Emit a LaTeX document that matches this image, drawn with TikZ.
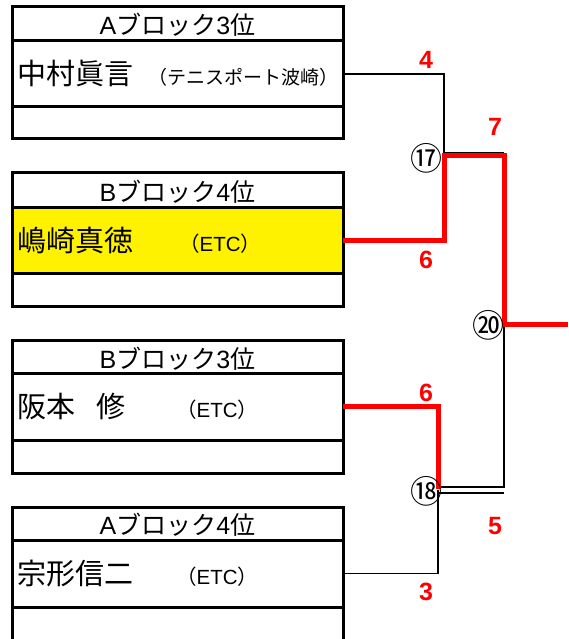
\documentclass[tikz,border=0pt]{standalone}
\usepackage{fontspec}
\setmainfont{Noto Sans CJK JP}
\newfontfamily\scorefont{Liberation Sans}
\newfontfamily\latinfont{Liberation Sans}
\tikzset{
  row/.style={draw, line width=3pt, minimum width=331pt, inner sep=0pt, outer sep=0pt},
  ttl/.style={anchor=base, inner sep=0pt, font=\fontsize{25}{25}\selectfont},
  pname/.style={anchor=base west, inner sep=0pt, font=\fontsize{29}{29}\selectfont},
  club/.style={anchor=base west, inner sep=0pt, font=\fontsize{19}{19}\selectfont},
  etc/.style={anchor=base west, inner sep=0pt, font=\fontsize{20.5}{20.5}\selectfont},
  score/.style={text=red, inner sep=0pt, font=\scorefont\bfseries\fontsize{25}{25}\selectfont},
  bline/.style={line width=1.3pt},
  rline/.style={red, line width=5pt, line join=miter},
  mnum/.style={inner sep=0pt, font=\fontsize{32}{32}\selectfont}
}
\begin{document}
\begin{tikzpicture}[x=1pt, y=-1pt]
\useasboundingbox (0,0) rectangle (568,639);
% box 1
\node[row, minimum height=34pt] (t1) at (177.5,24) {};
\node[row, minimum height=66pt] (n1) at (177.5,74) {};
\node[row, minimum height=32pt] (e1) at (177.5,123) {};
% box 2
\node[row, minimum height=34pt] (t2) at (177.5,190) {};
\node[row, minimum height=66pt, fill=yellow] (n2) at (177.5,240) {};
\node[row, minimum height=33pt] (e2) at (177.5,289.5) {};
% box 3
\node[row, minimum height=33pt] (t3) at (177.5,357) {};
\node[row, minimum height=67pt] (n3) at (177.5,406.5) {};
\node[row, minimum height=33pt] (e3) at (177.5,456.5) {};
% box 4
\node[row, minimum height=33pt] (t4) at (177.5,523.5) {};
\node[row, minimum height=67pt] (n4) at (177.5,573.5) {};
\node[row, minimum height=50pt] (e4) at (177.5,632) {};
% titles
\node[ttl] (tt1) at (177.5,35) {{\latinfont A}ブロック{\latinfont 3}位};
\node[ttl] (tt2) at (177.5,201) {{\latinfont B}ブロック{\latinfont 4}位};
\node[ttl] (tt3) at (177.5,368) {{\latinfont B}ブロック{\latinfont 3}位};
\node[ttl] (tt4) at (177.5,534.5) {{\latinfont A}ブロック{\latinfont 4}位};
% names
\node[pname] (p1) at (17,85) {中村眞言};
\node[club] (c1) at (148,85) {（テニスポート波崎）};
\node[pname] (p2) at (17,251) {嶋崎真徳};
\node[etc] (c2) at (179,251) {（{\latinfont ETC}）};
\node[pname] (p3) at (17,417) {阪本\hspace{0.75em}修};
\node[etc] (c3) at (176,417) {（{\latinfont ETC}）};
\node[pname] (p4) at (17,584) {宗形信二};
\node[etc] (c4) at (176,584) {（{\latinfont ETC}）};
% bracket coordinates
\coordinate (a17) at (444,153);
\coordinate (b17) at (504,153);
\coordinate (r17) at (444,156);
\coordinate (r20) at (504,156);
\coordinate (w20) at (504,324);
\coordinate (out) at (568,324);
\coordinate (r18) at (438,489);
\coordinate (a18) at (438,490);
\coordinate (u18) at (438,487);
\coordinate (v18) at (504,487);
\coordinate (l18) at (438,493);
\coordinate (m18) at (504,493);
% black lines
\draw[bline] (n1.east) -| (a17) -- (b17);
\draw[bline] (n4.east) -| (a18);
\draw[bline] (u18) -- (v18) -- (w20);
\draw[bline] (l18) -- (m18);
% red lines
\draw[rline] (n2.east) -| (r17) -- (r20) -- (w20) -- (out);
\draw[rline] (n3.east) -| (r18);
% match numbers
\node[mnum] (m17) at (426,158) {⑰};
\node[mnum] (m18n) at (426,491) {⑱};
\node[mnum] (m20) at (488,325) {⑳};
% scores
\node[score] (s1) at (426,60) {4};
\node[score] (s2) at (426,260) {6};
\node[score] (s3) at (495,127) {7};
\node[score] (s4) at (426,393) {6};
\node[score] (s5) at (426,592) {3};
\node[score] (s6) at (495,526) {5};
\end{tikzpicture}
\end{document}
